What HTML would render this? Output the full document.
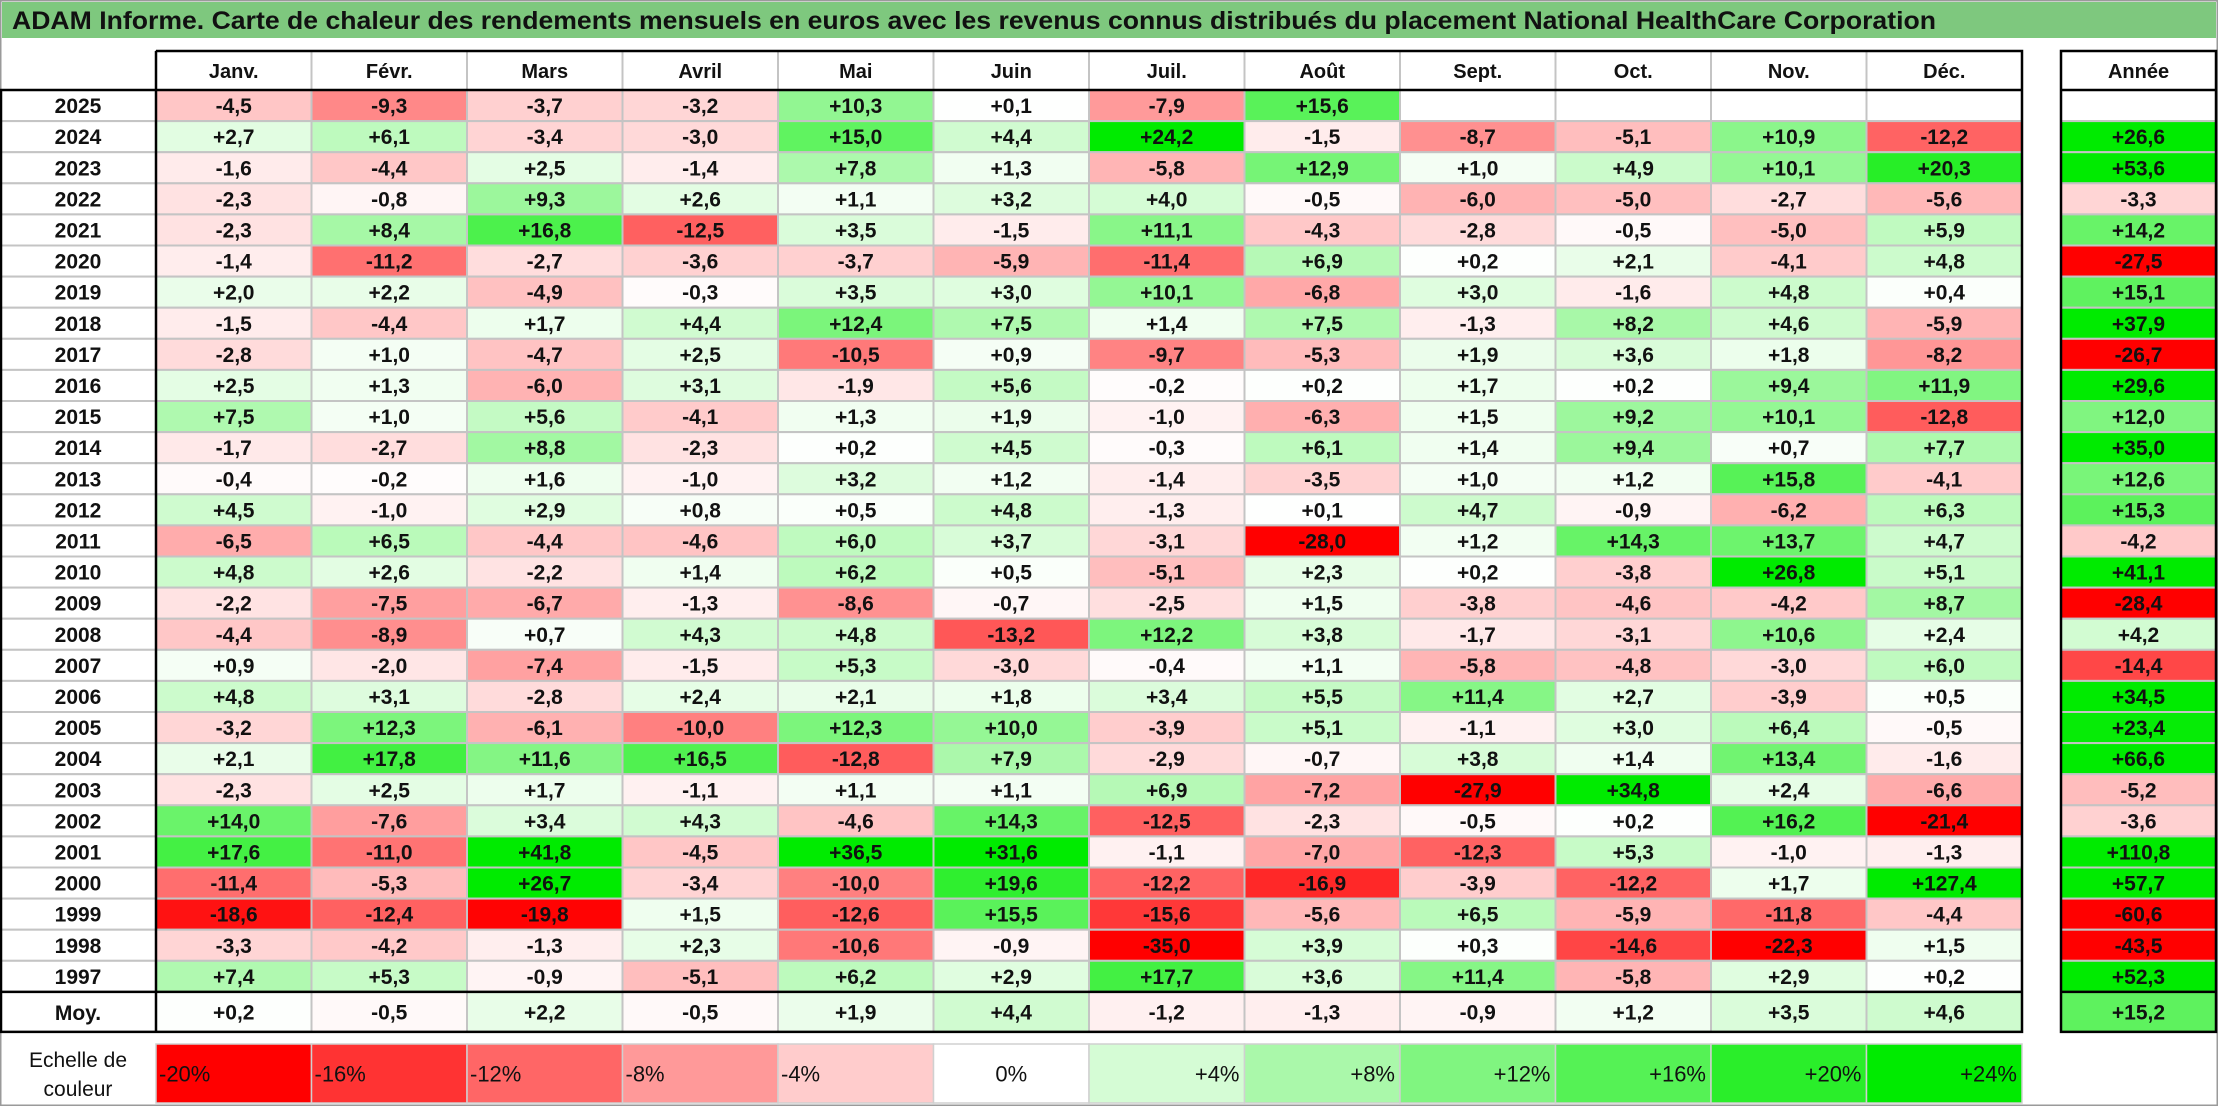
<!DOCTYPE html>
<html><head><meta charset="utf-8"><style>
html,body{margin:0;padding:0;background:#fff;}
svg{display:block;}
text{font-family:"Liberation Sans",Arial,sans-serif;}
</style></head><body>
<svg id="chart" width="2218" height="1106" viewBox="0 0 2218 1106" xmlns="http://www.w3.org/2000/svg">
<rect x="0.5" y="0.5" width="2217" height="1105" fill="#fff" stroke="#9a9a9a" stroke-width="2"/>
<rect x="2" y="2" width="2214" height="36" fill="#7ec87e"/>
<text x="12" y="29" font-size="25" font-weight="bold" fill="#111" textLength="1924" lengthAdjust="spacingAndGlyphs">ADAM Informe. Carte de chaleur des rendements mensuels en euros avec les revenus connus distribués du placement National HealthCare Corporation</text>
<g id="g"></g>
</svg>
<script>
const months=["Janv.","Févr.","Mars","Avril","Mai","Juin","Juil.","Août","Sept.","Oct.","Nov.","Déc."];
const years=[2025,2024,2023,2022,2021,2020,2019,2018,2017,2016,2015,2014,2013,2012,2011,2010,2009,2008,2007,2006,2005,2004,2003,2002,2001,2000,1999,1998,1997];
const values=[
[-4.5,-9.3,-3.7,-3.2,10.3,0.1,-7.9,15.6,null,null,null,null],
[2.7,6.1,-3.4,-3.0,15.0,4.4,24.2,-1.5,-8.7,-5.1,10.9,-12.2],
[-1.6,-4.4,2.5,-1.4,7.8,1.3,-5.8,12.9,1.0,4.9,10.1,20.3],
[-2.3,-0.8,9.3,2.6,1.1,3.2,4.0,-0.5,-6.0,-5.0,-2.7,-5.6],
[-2.3,8.4,16.8,-12.5,3.5,-1.5,11.1,-4.3,-2.8,-0.5,-5.0,5.9],
[-1.4,-11.2,-2.7,-3.6,-3.7,-5.9,-11.4,6.9,0.2,2.1,-4.1,4.8],
[2.0,2.2,-4.9,-0.3,3.5,3.0,10.1,-6.8,3.0,-1.6,4.8,0.4],
[-1.5,-4.4,1.7,4.4,12.4,7.5,1.4,7.5,-1.3,8.2,4.6,-5.9],
[-2.8,1.0,-4.7,2.5,-10.5,0.9,-9.7,-5.3,1.9,3.6,1.8,-8.2],
[2.5,1.3,-6.0,3.1,-1.9,5.6,-0.2,0.2,1.7,0.2,9.4,11.9],
[7.5,1.0,5.6,-4.1,1.3,1.9,-1.0,-6.3,1.5,9.2,10.1,-12.8],
[-1.7,-2.7,8.8,-2.3,0.2,4.5,-0.3,6.1,1.4,9.4,0.7,7.7],
[-0.4,-0.2,1.6,-1.0,3.2,1.2,-1.4,-3.5,1.0,1.2,15.8,-4.1],
[4.5,-1.0,2.9,0.8,0.5,4.8,-1.3,0.1,4.7,-0.9,-6.2,6.3],
[-6.5,6.5,-4.4,-4.6,6.0,3.7,-3.1,-28.0,1.2,14.3,13.7,4.7],
[4.8,2.6,-2.2,1.4,6.2,0.5,-5.1,2.3,0.2,-3.8,26.8,5.1],
[-2.2,-7.5,-6.7,-1.3,-8.6,-0.7,-2.5,1.5,-3.8,-4.6,-4.2,8.7],
[-4.4,-8.9,0.7,4.3,4.8,-13.2,12.2,3.8,-1.7,-3.1,10.6,2.4],
[0.9,-2.0,-7.4,-1.5,5.3,-3.0,-0.4,1.1,-5.8,-4.8,-3.0,6.0],
[4.8,3.1,-2.8,2.4,2.1,1.8,3.4,5.5,11.4,2.7,-3.9,0.5],
[-3.2,12.3,-6.1,-10.0,12.3,10.0,-3.9,5.1,-1.1,3.0,6.4,-0.5],
[2.1,17.8,11.6,16.5,-12.8,7.9,-2.9,-0.7,3.8,1.4,13.4,-1.6],
[-2.3,2.5,1.7,-1.1,1.1,1.1,6.9,-7.2,-27.9,34.8,2.4,-6.6],
[14.0,-7.6,3.4,4.3,-4.6,14.3,-12.5,-2.3,-0.5,0.2,16.2,-21.4],
[17.6,-11.0,41.8,-4.5,36.5,31.6,-1.1,-7.0,-12.3,5.3,-1.0,-1.3],
[-11.4,-5.3,26.7,-3.4,-10.0,19.6,-12.2,-16.9,-3.9,-12.2,1.7,127.4],
[-18.6,-12.4,-19.8,1.5,-12.6,15.5,-15.6,-5.6,6.5,-5.9,-11.8,-4.4],
[-3.3,-4.2,-1.3,2.3,-10.6,-0.9,-35.0,3.9,0.3,-14.6,-22.3,1.5],
[7.4,5.3,-0.9,-5.1,6.2,2.9,17.7,3.6,11.4,-5.8,2.9,0.2]
];
const annual=[null,26.6,53.6,-3.3,14.2,-27.5,15.1,37.9,-26.7,29.6,12.0,35.0,12.6,15.3,-4.2,41.1,-28.4,4.2,-14.4,34.5,23.4,66.6,-5.2,-3.6,110.8,57.7,-60.6,-43.5,52.3];
const avg=[0.2,-0.5,2.2,-0.5,1.9,4.4,-1.2,-1.3,-0.9,1.2,3.5,4.6];
const avgYear=[15.2];
const scaleTicks=[-20,-16,-12,-8,-4,0,4,8,12,16,20,24];

const NS="http://www.w3.org/2000/svg";
const G=document.getElementById('g');
const X0=156,CW=155.5,HY=51,TOP=90,RH=31.1,AX=2061,AW=155;
const MOYY=TOP+RH*years.length, MOYH=40, SY=1044, SH=59;
function xm(i){return X0+i*CW;}
function yr(i){return TOP+i*RH;}
function color(v){
  if(v===null) return '#ffffff';
  if(v<0){const t=Math.min(1,-v/20);const c=Math.round(255*(1-t));return `rgb(255,${c},${c})`;}
  const t=Math.min(1,v/24);const c=Math.round(255*(1-t));const g=Math.round(255-20*t);return `rgb(${c},${g},${c})`;
}
function fmt(v){if(v===null)return '';return (v>=0?'+':'-')+Math.abs(v).toFixed(1).replace('.',',');}
function el(tag,attrs,txt){const e=document.createElementNS(NS,tag);for(const k in attrs)e.setAttribute(k,attrs[k]);if(txt!==undefined)e.textContent=txt;G.appendChild(e);return e;}
function cell(x,y,w,h,v,name,bold){
  const r=el('rect',{x:x,y:y,width:w,height:h,fill:color(v),stroke:'#c4c4c4','stroke-width':2});
  
  
  const t=el('text',{x:x+w/2,y:y+h/2+7.5,'text-anchor':'middle','font-size':21,'font-weight':bold?'bold':'normal',fill:'#111'},fmt(v));
  
  
}
// headers
months.forEach((m,i)=>{
  const r=el('rect',{x:xm(i),y:HY,width:CW,height:TOP-HY,fill:'#fff',stroke:'#c4c4c4','stroke-width':2});
  
  
  const t=el('text',{x:xm(i)+CW/2,y:HY+27,'text-anchor':'middle','font-size':20,'font-weight':'bold',fill:'#111'},m);
  
  
});
const ah=el('text',{x:AX+AW/2,y:HY+27,'text-anchor':'middle','font-size':20,'font-weight':'bold',fill:'#111'},'Année');


// rows
years.forEach((y,r)=>{
  const yl=el('rect',{x:0,y:yr(r),width:X0,height:RH,fill:'#fff',stroke:'#c4c4c4','stroke-width':2});
  
  
  const t=el('text',{x:X0/2,y:yr(r)+RH/2+7.5,'text-anchor':'middle','font-size':21,'font-weight':'bold',fill:'#111'},String(y));
  
  
  values[r].forEach((v,c)=>cell(xm(c),yr(r),CW,RH,v,'cell-'+y+'-'+(c+1),true));
  cell(AX,yr(r),AW,RH,annual[r],'annual-'+y,true);
});
// average row
const ml=el('text',{x:X0/2,y:MOYY+MOYH/2+8,'text-anchor':'middle','font-size':21,'font-weight':'bold',fill:'#111'},'Moy.');


avg.forEach((v,c)=>cell(xm(c),MOYY,CW,MOYH,v,'average-'+(c+1),true));
cell(AX,MOYY,AW,MOYH,avgYear[0],'average-annual',true);
// borders
const bl={fill:'none',stroke:'#000','stroke-width':2.5};
const XR=xm(12);
const b1=el('path',Object.assign({d:`M${X0},${HY} H${XR} V${MOYY+MOYH} H1 V${TOP} H${XR} M${X0},${HY} V${MOYY+MOYH} M1,${MOYY} H${XR}`},bl));


const b2=el('path',Object.assign({d:`M${AX},${HY} H${AX+AW} V${MOYY+MOYH} H${AX} Z M${AX},${TOP} H${AX+AW} M${AX},${MOYY} H${AX+AW}`},bl));


// colour scale
const s1=el('text',{x:78,y:SY+23,'text-anchor':'middle','font-size':21,fill:'#111'},'Echelle de');


const s2=el('text',{x:78,y:SY+52,'text-anchor':'middle','font-size':21,fill:'#111'},'couleur');


scaleTicks.forEach((v,i)=>{
  const r=el('rect',{x:xm(i),y:SY,width:CW,height:SH,fill:color(v),stroke:'#d0d0d0','stroke-width':1.5});
  
  
  let anchor='start',tx=xm(i)+3;
  if(v===0){anchor='middle';tx=xm(i)+CW/2;} else if(v>0){anchor='end';tx=xm(i)+CW-5;}
  const lab=(v>0?'+':'')+v+'%';
  const t=el('text',{x:tx,y:SY+SH/2+8,'text-anchor':anchor,'font-size':22,fill:'#111'},lab);
  
  
});
</script>
</body></html>
